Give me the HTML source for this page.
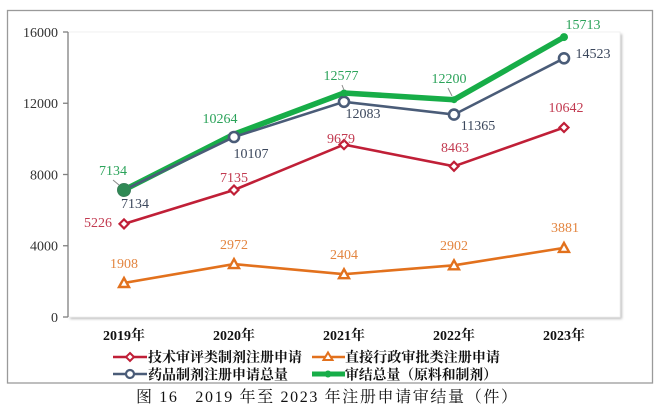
<!DOCTYPE html>
<html><head><meta charset="utf-8"><style>
html,body{margin:0;padding:0;background:#fff;}
svg{display:block;}
.tk{font-family:"Liberation Serif","Noto Serif CJK SC",serif;font-size:14px;fill:#333;text-anchor:end;}
.dl{font-family:"Liberation Serif",serif;font-size:14px;text-anchor:middle;}
.xl{font-family:"Liberation Serif","Noto Serif CJK SC",serif;font-size:14px;font-weight:bold;fill:#111;text-anchor:middle;}
.lg{font-family:"Liberation Serif","Noto Serif CJK SC",serif;font-size:14px;font-weight:bold;fill:#111;}
.cap{font-family:"Liberation Serif","Noto Serif CJK SC",serif;font-size:16px;fill:#111;white-space:pre;}
</style></head><body>
<svg width="657" height="413" viewBox="0 0 657 413" xmlns="http://www.w3.org/2000/svg">
<defs>
<filter id="sh" x="-5%" y="-5%" width="110%" height="110%"><feGaussianBlur stdDeviation="1.2"/></filter>
</defs>
<rect x="7.5" y="10.5" width="645" height="372.5" fill="#fff" stroke="#9a9a9a" stroke-width="1.3"/>
<!-- plot area -->
<rect x="70" y="34" width="552" height="285" fill="#bdbdbd" filter="url(#sh)"/>
<rect x="68" y="32" width="552" height="285" fill="#fff" stroke="#f0f0f0" stroke-width="1"/>
<line x1="68" y1="32" x2="68" y2="317" stroke="#808080" stroke-width="1.3"/>
<g stroke="#808080" stroke-width="1.3">
<line x1="63" y1="32" x2="68" y2="32"/>
<line x1="63" y1="103.25" x2="68" y2="103.25"/>
<line x1="63" y1="174.5" x2="68" y2="174.5"/>
<line x1="63" y1="245.75" x2="68" y2="245.75"/>
<line x1="63" y1="317" x2="68" y2="317"/>
</g>
<text class="tk" x="58" y="37">16000</text>
<text class="tk" x="58" y="108">12000</text>
<text class="tk" x="58" y="179.5">8000</text>
<text class="tk" x="58" y="250.5">4000</text>
<text class="tk" x="58" y="322">0</text>

<text class="xl" x="124" y="340">2019年</text>
<text class="xl" x="234" y="340">2020年</text>
<text class="xl" x="344" y="340">2021年</text>
<text class="xl" x="454" y="340">2022年</text>
<text class="xl" x="564" y="340">2023年</text>

<!-- orange -->
<polyline points="124,283 234,264.1 344,274.2 454,265.3 564,247.9" fill="none" stroke="#e2711d" stroke-width="2.6"/>
<g fill="#fff" stroke="#e2711d" stroke-width="2.4" stroke-linejoin="miter">
<polygon points="124,278 129,287 119,287"/>
<polygon points="234,259.1 239,268.1 229,268.1"/>
<polygon points="344,269.2 349,278.2 339,278.2"/>
<polygon points="454,260.3 459,269.3 449,269.3"/>
<polygon points="564,242.9 569,251.9 559,251.9"/>
</g>
<!-- red -->
<polyline points="124,223.9 234,190 344,144.6 454,166.3 564,127.5" fill="none" stroke="#c01f37" stroke-width="2.6"/>
<g fill="#fff" stroke="#c01f37" stroke-width="2.2">
<polygon points="124,219.4 128.5,223.9 124,228.4 119.5,223.9"/>
<polygon points="234,185.5 238.5,190 234,194.5 229.5,190"/>
<polygon points="344,140.1 348.5,144.6 344,149.1 339.5,144.6"/>
<polygon points="454,161.8 458.5,166.3 454,170.8 449.5,166.3"/>
<polygon points="564,123 568.5,127.5 564,132 559.5,127.5"/>
</g>
<!-- green line -->
<polyline points="124,190 234,134.2 344,93 454,99.7 564,37.1" fill="none" stroke="#17ad48" stroke-width="5.5" stroke-linejoin="round"/>
<!-- blue -->
<polyline points="124,190 234,137 344,101.8 454,114.6 564,58.3" fill="none" stroke="#4a5c78" stroke-width="2.6"/>
<g fill="#fff" stroke="#4a5c78" stroke-width="2.6">
<circle cx="234" cy="137" r="5"/>
<circle cx="344" cy="101.8" r="5"/>
<circle cx="454" cy="114.6" r="5"/>
<circle cx="564" cy="58.3" r="5"/>
</g>
<!-- green markers -->
<circle cx="124" cy="190" r="6.5" fill="#2f8a55" stroke="#3a7f5a" stroke-width="1"/>
<g fill="#17ad48">
<circle cx="344" cy="93" r="3.5"/>
<circle cx="454" cy="99.7" r="3.5"/>
<circle cx="564" cy="37.1" r="4"/>
</g>
<!-- leader lines -->
<g stroke="#8a8a8a" stroke-width="1">
<line x1="113" y1="180" x2="119" y2="185"/>
<line x1="342" y1="85" x2="344" y2="90"/>
<line x1="448" y1="88" x2="452" y2="96"/>
</g>

<!-- labels -->
<g class="dl" fill="#2ba35a">
<text x="113" y="175">7134</text>
<text x="220" y="123">10264</text>
<text x="341" y="80">12577</text>
<text x="449" y="83">12200</text>
<text x="583" y="29">15713</text>
</g>
<g class="dl" fill="#3b475c">
<text x="135" y="208">7134</text>
<text x="251" y="158">10107</text>
<text x="363" y="118">12083</text>
<text x="478" y="130">11365</text>
<text x="593" y="58">14523</text>
</g>
<g class="dl" fill="#c23a50">
<text x="98" y="227">5226</text>
<text x="234" y="182">7135</text>
<text x="341" y="143">9679</text>
<text x="455" y="152">8463</text>
<text x="566" y="112">10642</text>
</g>
<g class="dl" fill="#e38540">
<text x="124" y="268">1908</text>
<text x="234" y="249">2972</text>
<text x="344" y="259">2404</text>
<text x="454" y="250">2902</text>
<text x="565" y="232">3881</text>
</g>

<!-- legend -->
<line x1="113" y1="357" x2="147" y2="357" stroke="#c01f37" stroke-width="2.6"/>
<polygon points="130,353 134,357 130,361 126,357" fill="#fff" stroke="#c01f37" stroke-width="2"/>
<text class="lg" x="148" y="362" textLength="154" lengthAdjust="spacingAndGlyphs">技术审评类制剂注册申请</text>
<line x1="312" y1="357" x2="345" y2="357" stroke="#e2711d" stroke-width="2.6"/>
<polygon points="328,352.5 332.5,360 323.5,360" fill="#fff" stroke="#e2711d" stroke-width="2"/>
<text class="lg" x="345" y="362" textLength="155" lengthAdjust="spacingAndGlyphs">直接行政审批类注册申请</text>
<line x1="113" y1="374" x2="147" y2="374" stroke="#4a5c78" stroke-width="2.6"/>
<circle cx="130" cy="374" r="4" fill="#fff" stroke="#4a5c78" stroke-width="2.2"/>
<text class="lg" x="148" y="379.5" textLength="140" lengthAdjust="spacingAndGlyphs">药品制剂注册申请总量</text>
<line x1="312" y1="374" x2="345" y2="374" stroke="#17ad48" stroke-width="5"/>
<circle cx="328" cy="374" r="3.5" fill="#17ad48"/>
<text class="lg" x="345" y="379.5" textLength="152" lengthAdjust="spacingAndGlyphs">审结总量（原料和制剂）</text>

<!-- caption -->
<text class="cap" x="136" y="402" xml:space="preserve" textLength="381" lengthAdjust="spacing">图 16   2019 年至 2023 年注册申请审结量（件）</text>
</svg>
</body></html>
